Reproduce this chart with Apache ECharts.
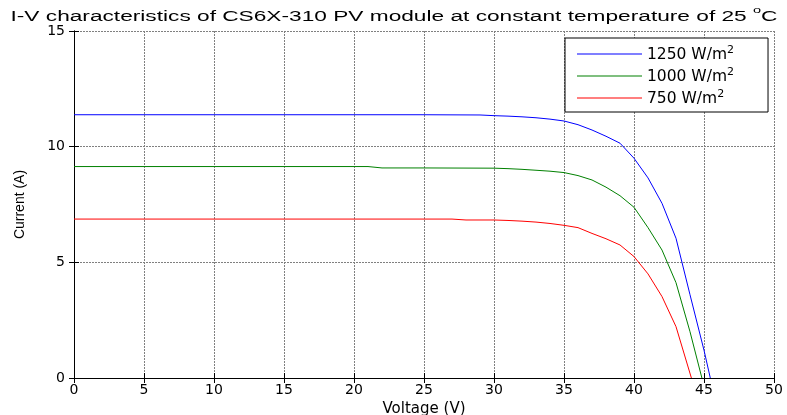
<!DOCTYPE html>
<html>
<head>
<meta charset="utf-8">
<script src="https://cdn.jsdelivr.net/npm/echarts@6/dist/echarts.min.js"></script>
<style>html,body{margin:0;padding:0;background:#fff}#c{width:787px;height:415px}</style>
</head>
<body>
<div id="c"></div>
<script>
const seriesNames = ['1250', '1000', '750'];
const v1250 = [0, 5, 10, 15, 20, 25, 29, 30, 31, 32, 33, 34, 35, 36, 37, 38, 39, 40, 41, 42, 43, 44, 45, 45.45];
const i1250 = [11.38, 11.38, 11.38, 11.38, 11.38, 11.38, 11.37, 11.34, 11.32, 11.29, 11.25, 11.19, 11.11, 10.95, 10.72, 10.45, 10.15, 9.5, 8.65, 7.55, 6.04, 3.6, 1.2, 0];
const v1000 = [0, 21, 22, 25, 30, 31, 32, 33, 34, 35, 36, 37, 38, 39, 40, 41, 42, 43, 44, 44.85];
const i1000 = [9.14, 9.14, 9.08, 9.08, 9.07, 9.05, 9.02, 8.98, 8.94, 8.88, 8.75, 8.56, 8.25, 7.88, 7.38, 6.5, 5.53, 4.12, 2.0, 0];
const v750 = [0, 27, 28, 30, 31, 32, 33, 34, 35, 36, 37, 38, 39, 40, 41, 42, 43, 44.1];
const i750 = [6.87, 6.87, 6.83, 6.83, 6.81, 6.78, 6.74, 6.68, 6.6, 6.5, 6.25, 6.02, 5.75, 5.25, 4.5, 3.52, 2.22, 0];
const xTicks = {min: 0, max: 50, interval: 5};
const yTicks = {min: 0, max: 15, interval: 5};
const titleMain = 'I-V characteristics of CS6X-310 PV module at constant temperature of 25 ';

const pairs = (v, i) => v.map((x, k) => [x, i[k]]);
const FONT = 'Liberation Sans, Arial, sans-serif';
const WIDE = 'DejaVu Sans, sans-serif';
const chart = echarts.init(document.getElementById('c'));
const gridLine = {show: true, lineStyle: {color: '#808080', width: 1, type: [2, 1]}};
const tick = {show: true, inside: true, length: 5, lineStyle: {color: '#000'}};
const axLine = {show: true, lineStyle: {color: '#000', width: 1}};
const colors = ['#0000ff', '#008000', '#ff0000'];

chart.setOption({
  animation: false,
  backgroundColor: '#fff',
  graphic: [{
    type: 'text', x: 394, y: 15, scaleX: 1.62, scaleY: 1,
    style: {
      text: '{a|' + titleMain + '}{s|o}{a|C}',
      align: 'center', verticalAlign: 'middle',
      rich: {
        a: {font: '14px ' + FONT, fill: '#000', lineHeight: 18, verticalAlign: 'bottom'},
        s: {font: '9px ' + FONT, fill: '#000', lineHeight: 18, verticalAlign: 'top'}
      }
    }
  }],
  grid: {left: 74, right: 13, top: 31, bottom: 37, containLabel: false, outerBoundsMode: 'none'},
  legend: {
    data: seriesNames.map(n => n + ' W/m2'),
    orient: 'vertical', left: 565, top: 38,
    padding: [7, 34, 5, 12],
    icon: 'rect',
    itemWidth: 65, itemHeight: 1, itemGap: 4,
    borderColor: '#000', borderWidth: 1, backgroundColor: '#fff',
    formatter: name => '{a|' + name.slice(0, -1) + '}{s|2}',
    textStyle: {
      rich: {
        a: {fontFamily: WIDE, fontSize: 15.5, color: '#000', lineHeight: 18, verticalAlign: 'bottom'},
        s: {fontFamily: WIDE, fontSize: 11, color: '#000', lineHeight: 18, verticalAlign: 'top'}
      }
    }
  },
  xAxis: [{
    type: 'value', min: xTicks.min, max: xTicks.max, interval: xTicks.interval,
    name: 'Voltage (V)', nameLocation: 'middle', nameGap: 16,
    nameTextStyle: {fontFamily: WIDE, fontSize: 15, color: '#000'},
    axisLine: axLine, axisTick: tick, splitLine: gridLine,
    axisLabel: {fontFamily: WIDE, fontSize: 14, color: '#000', margin: 5}
  }, {
    type: 'value', position: 'top', min: xTicks.min, max: xTicks.max, interval: xTicks.interval,
    axisLine: axLine, axisTick: tick, splitLine: {show: false}, axisLabel: {show: false}
  }],
  yAxis: [{
    type: 'value', min: yTicks.min, max: yTicks.max, interval: yTicks.interval,
    name: 'Current (A)', nameLocation: 'middle', nameGap: 47,
    nameTextStyle: {fontFamily: FONT, fontSize: 14, color: '#000'},
    axisLine: axLine, axisTick: tick, splitLine: gridLine,
    axisLabel: {fontFamily: WIDE, fontSize: 14, color: '#000', margin: 9}
  }, {
    type: 'value', position: 'right', min: yTicks.min, max: yTicks.max, interval: yTicks.interval,
    axisLine: axLine, axisTick: tick, splitLine: {show: false}, axisLabel: {show: false}
  }],
  series: [
    {name: seriesNames[0] + ' W/m2', type: 'line', data: pairs(v1250, i1250)},
    {name: seriesNames[1] + ' W/m2', type: 'line', data: pairs(v1000, i1000)},
    {name: seriesNames[2] + ' W/m2', type: 'line', data: pairs(v750, i750)}
  ].map((s, k) => Object.assign(s, {
    symbol: 'none', xAxisIndex: 0, yAxisIndex: 0,
    lineStyle: {color: colors[k], width: 1}, itemStyle: {color: colors[k]}
  }))
});
</script>
</body>
</html>
